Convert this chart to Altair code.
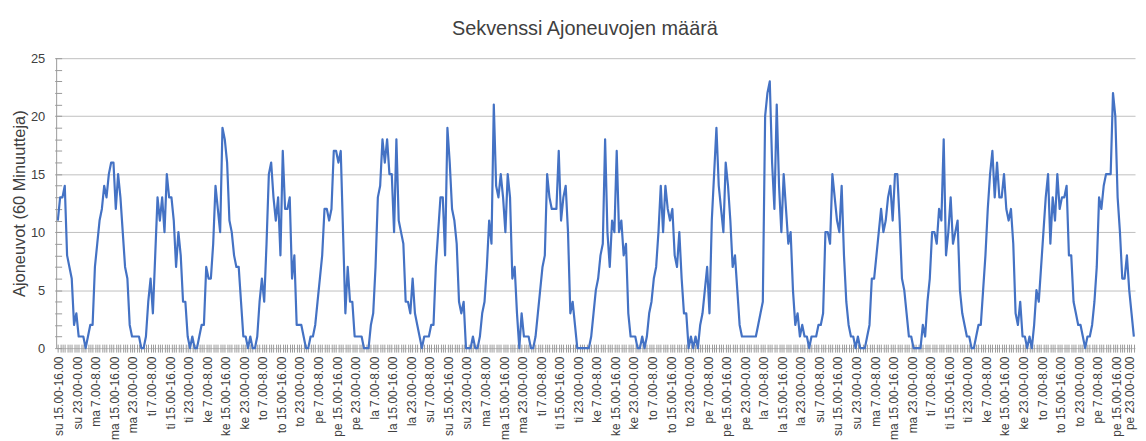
import json
import altair as alt
import pandas as pd

# Hourly vehicle counts, one list per day (first day starts at 15.00)
su1 = [11, 13, 13, 14, 8, 7, 6, 2, 3]
ma1 = [1, 1, 1, 0, 1, 2, 2, 7, 9, 11, 12, 14, 13, 15, 16, 16, 12, 15, 13, 10, 7, 6, 2, 1]
ti1 = [1, 1, 1, 0, 0, 1, 4, 6, 3, 8, 13, 11, 13, 10, 15, 13, 13, 11, 7, 10, 8, 4, 4, 1]
ke1 = [0, 1, 0, 0, 1, 2, 2, 7, 6, 6, 9, 14, 12, 10, 19, 18, 16, 11, 10, 8, 7, 7, 4, 1]
to1 = [1, 0, 1, 0, 0, 1, 4, 6, 4, 9, 15, 16, 13, 11, 13, 8, 17, 12, 12, 13, 6, 8, 2, 2]
pe1 = [2, 1, 0, 0, 1, 1, 2, 4, 6, 8, 12, 12, 11, 12, 17, 17, 16, 17, 10, 3, 7, 4, 4, 1]
la1 = [1, 1, 1, 0, 0, 0, 2, 3, 7, 13, 14, 18, 16, 18, 15, 15, 10, 18, 11, 10, 9, 4, 4, 3]
su2 = [6, 3, 2, 1, 0, 1, 1, 1, 2, 2, 7, 10, 13, 13, 8, 19, 16, 12, 11, 9, 4, 3, 4, 0]
ma2 = [0, 0, 1, 0, 0, 1, 3, 4, 7, 11, 9, 21, 14, 13, 15, 13, 10, 15, 13, 6, 7, 3, 0, 3]
ti2 = [1, 1, 1, 0, 0, 1, 3, 5, 7, 8, 15, 13, 12, 12, 12, 17, 11, 13, 14, 10, 3, 4, 2, 0]
ke2 = [0, 0, 0, 0, 0, 1, 3, 5, 6, 8, 9, 18, 10, 7, 11, 10, 17, 10, 11, 8, 9, 3, 1, 1]
to2 = [1, 0, 0, 1, 0, 1, 3, 4, 6, 7, 10, 14, 10, 14, 12, 11, 12, 8, 7, 10, 6, 3, 3, 0]
pe2 = [1, 0, 1, 0, 2, 3, 5, 7, 3, 11, 15, 19, 14, 12, 10, 16, 14, 11, 7, 8, 5, 2, 1, 1]
la2 = [1, 1, 1, 1, 1, 2, 3, 4, 20, 22, 23, 16, 12, 21, 14, 10, 15, 12, 9, 10, 5, 2, 3, 1]
su3 = [2, 1, 1, 0, 1, 1, 1, 2, 2, 3, 10, 10, 9, 15, 13, 11, 10, 14, 8, 4, 2, 1, 1, 0]
ma3 = [1, 0, 0, 0, 1, 2, 6, 6, 8, 10, 12, 10, 11, 13, 14, 11, 15, 15, 11, 6, 5, 3, 1, 1]
ti3 = [0, 0, 0, 0, 2, 1, 4, 6, 10, 10, 9, 12, 11, 18, 8, 10, 13, 9, 10, 11, 5, 3, 2, 1]
ke3 = [1, 0, 0, 1, 2, 2, 5, 8, 12, 15, 17, 13, 16, 13, 13, 15, 12, 11, 12, 9, 3, 2, 4, 1]
to3 = [1, 0, 1, 0, 2, 5, 4, 7, 10, 13, 15, 9, 13, 11, 15, 12, 13, 13, 14, 8, 8, 4, 3, 2]
pe3 = [2, 1, 0, 1, 1, 2, 4, 7, 13, 12, 14, 15, 15, 15, 22, 20, 13, 10, 6, 6, 8, 5, 3, 1]

days = [su1, ma1, ti1, ke1, to1, pe1, la1, su2, ma2, ti2, ke2, to2, pe2, la2,
        su3, ma3, ti3, ke3, to3, pe3]
values = [v for d in days for v in d]

# Category labels shown on the axis (every 8th hour)
tick_labels = [
    "su 15.00-16.00", "su 23.00-0.00",
    "ma 7.00-8.00", "ma 15.00-16.00", "ma 23.00-0.00",
    "ti 7.00-8.00", "ti 15.00-16.00", "ti 23.00-0.00",
    "ke 7.00-8.00", "ke 15.00-16.00", "ke 23.00-0.00",
    "to 7.00-8.00", "to 15.00-16.00", "to 23.00-0.00",
    "pe 7.00-8.00", "pe 15.00-16.00", "pe 23.00-0.00",
    "la 7.00-8.00", "la 15.00-16.00", "la 23.00-0.00",
    "su 7.00-8.00", "su 15.00-16.00", "su 23.00-0.00",
    "ma 7.00-8.00", "ma 15.00-16.00", "ma 23.00-0.00",
    "ti 7.00-8.00", "ti 15.00-16.00", "ti 23.00-0.00",
    "ke 7.00-8.00", "ke 15.00-16.00", "ke 23.00-0.00",
    "to 7.00-8.00", "to 15.00-16.00", "to 23.00-0.00",
    "pe 7.00-8.00", "pe 15.00-16.00", "pe 23.00-0.00",
    "la 7.00-8.00", "la 15.00-16.00", "la 23.00-0.00",
    "su 7.00-8.00", "su 15.00-16.00", "su 23.00-0.00",
    "ma 7.00-8.00", "ma 15.00-16.00", "ma 23.00-0.00",
    "ti 7.00-8.00", "ti 15.00-16.00", "ti 23.00-0.00",
    "ke 7.00-8.00", "ke 15.00-16.00", "ke 23.00-0.00",
    "to 7.00-8.00", "to 15.00-16.00", "to 23.00-0.00",
    "pe 7.00-8.00", "pe 15.00-16.00", "pe 23.00-0.00",
]
y_ticks = list(range(0, 26))

df = pd.DataFrame({"tunti": list(range(len(values))), "ajoneuvot": values})

W, H = 1086, 292
FONT = "Liberation Sans"
TEXT = "#404040"
TICK = "#9a9a9a"
last = len(values) - 1

label_expr = ("datum.value % 8 == 0 ? "
              + json.dumps(tick_labels, ensure_ascii=False)
              + "[datum.value / 8] : ''")

line = alt.Chart(df).mark_line(color="#4472C4", strokeWidth=2.2, strokeJoin="round").encode(
    x=alt.X("tunti:O", scale=alt.Scale(type="point", padding=0.5),
            axis=alt.Axis(title=None, labelExpr=label_expr, labelAngle=270,
                          labelOverlap=False, domain=False, grid=False,
                          ticks=True, tickSize=8, tickColor=TICK, tickWidth=1,
                          offset=-4, labelPadding=4,
                          labelOffset=alt.condition(f"datum.value >= {last}", alt.value(-4), alt.value(1)),
                          labelFont=FONT, labelFontSize=12, labelColor=TEXT)),
    y=alt.Y("ajoneuvot:Q", scale=alt.Scale(domain=[0, 25], nice=False, zero=True),
            axis=alt.Axis(title="Ajoneuvot (60 Minuutteja)", values=y_ticks,
                          labelExpr="datum.value % 5 == 0 ? datum.label : ''",
                          domain=False, offset=-5, tickSize=7, tickColor=TICK,
                          grid=True, gridColor="#c0c0c0",
                          gridOpacity=alt.condition("datum.value % 5 == 0", alt.value(1), alt.value(0)),
                          labelPadding=10, labelFont=FONT, labelFontSize=13,
                          labelColor=TEXT, titleFont=FONT, titleFontSize=16.5,
                          titleFontWeight="normal", titleColor=TEXT, titlePadding=3)),
)

yline = alt.Chart(pd.DataFrame({"a": [0]})).mark_rule(color=TICK, strokeWidth=1).encode(
    x=alt.value(0), y=alt.value(0), y2=alt.value(H)
)

chart = alt.layer(line, yline).properties(
    width=W, height=H,
    title=alt.TitleParams("Sekvenssi Ajoneuvojen määrä", font=FONT, fontSize=20,
                          fontWeight="normal", color=TEXT, anchor="middle",
                          dx=-11, offset=13),
    padding={"left": 49, "top": 49, "right": 3, "bottom": 92},
    autosize=alt.AutoSizeParams(type="none"),
    background="white",
).configure_view(stroke=None)

chart.save("out.html", embed_options={"renderer": "svg", "actions": False})
